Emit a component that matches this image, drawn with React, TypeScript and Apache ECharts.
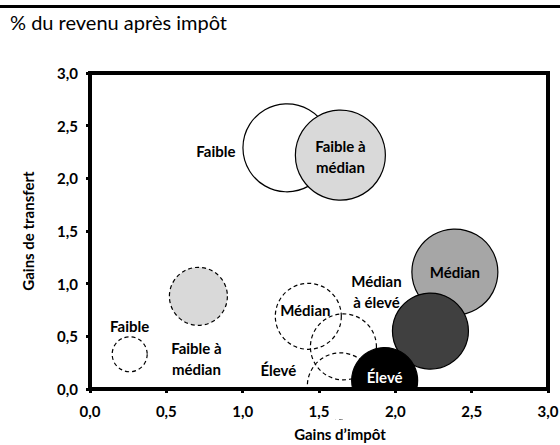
import React, { useEffect, useRef } from "react";
import * as echarts from "echarts";

// Groupes de revenu
const groupNames = ["Faible", "Faible à\nmédian", "Médian", "Médian\nà élevé", "Élevé"];
const fillColors = ["#ffffff", "#d9d9d9", "#a6a6a6", "#404040", "#000000"];

// Bulles pleines (trait continu)
const solidX = [1.29, 1.64, 2.39, 2.23, 1.93];
const solidY = [2.29, 2.22, 1.11, 0.55, 0.08];
const solidSize = [4.4, 4.5, 4.3, 3.8, 3.3];

// Bulles en pointillé
const dashedX = [0.26, 0.71, 1.43, 1.66, 1.64];
const dashedY = [0.33, 0.88, 0.69, 0.4, 0.03];
const dashedSize = [1.75, 2.9, 3.3, 3.3, 3.3];
const dashedFilled = [false, true, false, false, false];
const dashedLabelled = [true, true, true, false, true];

const subtitle = "% du revenu après impôt";
const xTitle = "Gains d’impôt";
const yTitle = "Gains de transfert";
const axisMin = 0;
const axisMax = 3;
const axisStep = 0.5;

const FONT = "Lato, 'Noto Sans', sans-serif";

export default function App() {
  const ref = useRef<HTMLDivElement>(null);

  useEffect(() => {
    if (!ref.current) return;
    const chart = echarts.init(ref.current, null, { renderer: "svg" });

    const sizeScale = 20;
    const solidLabelLayout: any[] = [
      { offset: [-71, 3] },
      { offset: [0, 1] },
      { offset: [0, 0] },
      { offset: [-54, -40] },
      { offset: [0, -4], color: "#ffffff" },
    ];
    const dashedLabelLayout: any[] = [
      { offset: [0, -28] },
      { offset: [-2, 62] },
      { offset: [-3, -6] },
      { offset: [0, 0] },
      { offset: [-62, -16] },
    ];

    const labelBase = {
      show: true,
      position: "inside",
      formatter: "{b}",
      fontFamily: FONT,
      fontWeight: "bold",
      fontSize: 15,
      lineHeight: 21,
      color: "#000000",
    };

    const solidData = groupNames.map((n, i) => ({
      name: n,
      value: [solidX[i], solidY[i], solidSize[i]],
      itemStyle: {
        color: fillColors[i],
        borderColor: "#000000",
        borderWidth: 1.2,
        opacity: 1,
      },
      label: { ...labelBase, ...solidLabelLayout[i] },
    }));

    const dashedData = groupNames.map((n, i) => ({
      name: n,
      value: [dashedX[i], dashedY[i], dashedSize[i]],
      itemStyle: {
        color: dashedFilled[i] ? fillColors[i] : "rgba(0,0,0,0)",
        borderColor: "#000000",
        borderWidth: 1.2,
        borderType: [4, 3],
        opacity: 1,
      },
      label: { ...labelBase, ...dashedLabelLayout[i], show: dashedLabelled[i] },
    }));

    const tickFmt = (v: number) => v.toFixed(1).replace(".", ",");

    const axisCommon = {
      type: "value",
      min: axisMin,
      max: axisMax,
      interval: axisStep,
      z: 10,
      splitLine: { show: false },
      axisLine: { show: true, onZero: false, lineStyle: { color: "#000", width: 4, cap: "square" } },
      axisTick: { show: true, inside: false, length: 4, lineStyle: { color: "#000", width: 3 } },
      axisLabel: {
        formatter: tickFmt,
        fontFamily: FONT,
        fontWeight: "bold",
        fontSize: 15,
        color: "#000",
      },
      nameLocation: "middle",
      nameTextStyle: { fontFamily: FONT, fontWeight: "bold", fontSize: 15, color: "#000" },
    };

    const frameAxis = {
      type: "value",
      min: axisMin,
      max: axisMax,
      interval: axisStep,
      z: 10,
      splitLine: { show: false },
      axisLine: { show: true, onZero: false, lineStyle: { color: "#000", width: 4, cap: "square" } },
      axisTick: { show: false },
      axisLabel: { show: false },
    };

    const option: any = {
      animation: false,
      backgroundColor: "#ffffff",
      grid: {
        left: 90,
        right: 12,
        top: 73,
        bottom: 56,
        show: false,
        containLabel: false,
        outerBoundsMode: "none",
      },
      xAxis: [
        {
          ...axisCommon,
          name: xTitle,
          nameGap: 37,
          nameTextStyle: { ...axisCommon.nameTextStyle, padding: [0, 0, 0, 42] },
          axisLabel: { ...axisCommon.axisLabel, margin: 14 },
        },
        { ...frameAxis, position: "top" },
      ],
      yAxis: [
        {
          ...axisCommon,
          name: yTitle,
          nameGap: 55,
          nameRotate: 90,
          axisLabel: { ...axisCommon.axisLabel, margin: 12 },
        },
        { ...frameAxis, position: "right" },
      ],
      graphic: [
        {
          type: "line",
          z: 20,
          shape: { x1: 0, y1: 6.5, x2: 560, y2: 6.5 },
          style: { stroke: "#000", lineWidth: 3 },
        },
        {
          type: "text",
          z: 20,
          x: 10,
          y: 22,
          style: {
            text: subtitle,
            fontFamily: FONT,
            fontSize: 20,
            fill: "#000",
            verticalAlign: "middle",
            align: "left",
          },
        },
        {
          type: "rect",
          z: 5,
          shape: { x: 92, y: 391, width: 454, height: 28 },
          style: { fill: "#ffffff" },
          silent: true,
        },
        {
          type: "rect",
          z: 12,
          shape: { x: 90, y: 73, width: 458, height: 316, r: 1 },
          style: { fill: "none", stroke: "#000", lineWidth: 4, lineJoin: "round" },
          silent: true,
        },
      ],
      series: [
        {
          type: "scatter",
          z: 2,
          symbol: "circle",
          symbolSize: (v: number[]) => v[2] * sizeScale,
          data: dashedData,
          emphasis: { disabled: true },
        },
        {
          type: "scatter",
          z: 3,
          symbol: "circle",
          symbolSize: (v: number[]) => v[2] * sizeScale,
          data: solidData,
          emphasis: { disabled: true },
        },
      ],
    };

    chart.setOption(option);
    return () => chart.dispose();
  }, []);

  return (
    <div
      ref={ref}
      style={{ position: "absolute", left: 0, top: 0, width: 560, height: 445, background: "#fff" }}
    />
  );
}
